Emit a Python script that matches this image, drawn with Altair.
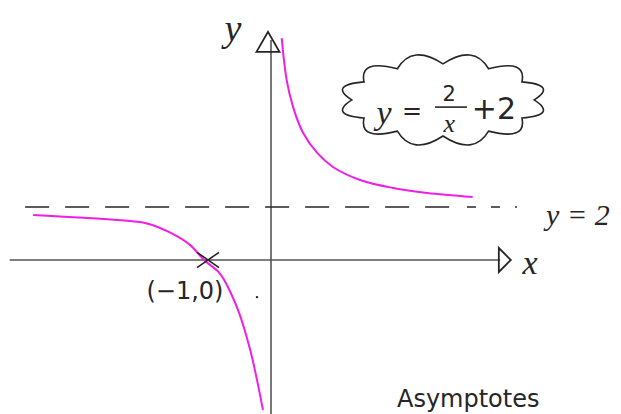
import altair as alt
import pandas as pd

# Branches of y = 2/x + 2, traced by hand
left_x = [-3.55, -2.10, -1.85, -1.51, -1.21, -1.0, -0.76, -0.51, -0.31, -0.12]
left_y = [1.70, 1.47, 1.38, 1.04, 0.57, 0.0, -0.52, -1.77, -3.40, -5.66]
right_x = [0.16, 0.234, 0.33, 0.48, 0.69, 0.925, 1.33, 1.82, 2.33, 3.01]
right_y = [8.37, 6.79, 5.77, 4.79, 4.04, 3.51, 3.02, 2.72, 2.53, 2.38]

asymptote_y = 2
intercept = (-1, 0)

X_DOMAIN = [-4.0448, 5.2239]
Y_DOMAIN = [-5.8113, 9.8113]

INK = "#262626"
AXIS_INK = "#555555"
PEN = "#f01ee6"
HAND = "DejaVu Sans"
HAND_LETTER = "Liberation Serif"

xs = alt.Scale(domain=X_DOMAIN, nice=False, zero=False)
ys = alt.Scale(domain=Y_DOMAIN, nice=False, zero=False)


def X(field="x"):
    return alt.X(f"{field}:Q", scale=xs, axis=None)


def Y(field="y"):
    return alt.Y(f"{field}:Q", scale=ys, axis=None)


curves = pd.DataFrame(
    {
        "x": left_x + right_x,
        "y": left_y + right_y,
        "branch": ["left"] * len(left_x) + ["right"] * len(right_x),
        "i": list(range(len(left_x))) + list(range(len(right_x))),
    }
)

branches = (
    alt.Chart(curves)
    .mark_line(color=PEN, strokeWidth=2, interpolate="catmull-rom")
    .encode(x=X(), y=Y(), detail="branch:N", order="i:Q")
)

# Axes
axes_df = pd.DataFrame(
    [
        {"x": 0, "x2": 0, "y": 8.30, "y2": Y_DOMAIN[0]},
        {"x": -3.90, "x2": 3.42, "y": 0, "y2": 0},
    ]
)
axes = (
    alt.Chart(axes_df)
    .mark_rule(color=AXIS_INK, strokeWidth=1.6)
    .encode(x=X(), x2="x2:Q", y=Y(), y2="y2:Q")
)

y_arrow = (
    alt.Chart(pd.DataFrame({"x": [-0.045], "y": [8.23]}))
    .mark_point(
        shape="M -1 0.87 L 0 -0.87 L 1 0.87 Z",
        size=529,
        filled=False,
        color=INK,
        strokeWidth=1.8,
        opacity=1,
    )
    .encode(x=X(), y=Y())
)

x_arrow = (
    alt.Chart(pd.DataFrame({"x": [3.49], "y": [0.0]}))
    .mark_point(
        shape="M -0.5 -1 L 0.5 0 L -0.5 1 Z",
        size=576,
        filled=False,
        color=INK,
        strokeWidth=1.8,
        opacity=1,
    )
    .encode(x=X(), y=Y())
)

# Horizontal asymptote y = 2
asym_main = (
    alt.Chart(pd.DataFrame({"x": [-3.67], "x2": [2.85], "y": [asymptote_y]}))
    .mark_rule(color=INK, strokeWidth=1.6, strokeDash=[24, 16])
    .encode(x=X(), x2="x2:Q", y=Y())
)
asym_tail = (
    alt.Chart(pd.DataFrame({"x": [2.925], "x2": [3.67], "y": [asymptote_y]}))
    .mark_rule(color=INK, strokeWidth=1.4, strokeDash=[9, 15])
    .encode(x=X(), x2="x2:Q", y=Y())
)

# x-intercept cross and its label
cross = (
    alt.Chart(pd.DataFrame({"x": [intercept[0] + 0.06], "y": [intercept[1]]}))
    .mark_point(
        shape="M -1 -0.7 L 1 0.7 M -1 0.7 L 1 -0.7",
        size=484,
        filled=False,
        color=INK,
        strokeWidth=1.6,
        opacity=1,
    )
    .encode(x=X(), y=Y())
)

dot = (
    alt.Chart(pd.DataFrame({"x": [-0.209], "y": [-1.40]}))
    .mark_point(shape="circle", size=6, filled=True, color=INK, opacity=1)
    .encode(x=X(), y=Y())
)

# Thought cloud around the equation
cloud_path = (
    "M 0.86 0 Q 1.082 0.142 0.745 0.17 Q 0.792 0.389 0.43 0.294 "
    "Q 0.29 0.531 0 0.34 Q -0.29 0.531 -0.43 0.294 "
    "Q -0.792 0.389 -0.745 0.17 Q -1.082 0.142 -0.86 0 "
    "Q -1.082 -0.142 -0.745 -0.17 Q -0.792 -0.389 -0.43 -0.294 "
    "Q -0.29 -0.531 0 -0.34 Q 0.29 -0.531 0.43 -0.294 "
    "Q 0.792 -0.389 0.745 -0.17 Q 1.082 -0.142 0.86 0 Z"
)
cloud = (
    alt.Chart(pd.DataFrame({"x": [2.567], "y": [6.04]}))
    .mark_point(
        shape=cloud_path,
        size=44944,
        filled=False,
        color=INK,
        strokeWidth=1.6,
        opacity=1,
    )
    .encode(x=X(), y=Y())
)

frac_bar = (
    alt.Chart(pd.DataFrame({"x": [2.448], "x2": [2.925], "y": [5.77]}))
    .mark_rule(color=INK, strokeWidth=1.6)
    .encode(x=X(), x2="x2:Q", y=Y())
)


def label(text, x, y, size, font=HAND, style="normal", align="center", baseline="middle"):
    return (
        alt.Chart(pd.DataFrame({"x": [x], "y": [y], "t": [text]}))
        .mark_text(
            font=font,
            fontSize=size,
            fontStyle=style,
            color=INK,
            align=align,
            baseline=baseline,
        )
        .encode(x=X(), y=Y(), text="t:N")
    )


texts = [
    label("y", -0.567, 8.68, 38, HAND_LETTER, "italic"),
    label("x", 3.866, -0.15, 34, HAND_LETTER, "italic"),
    label("y = 2", 4.58, 1.66, 30, HAND_LETTER, "italic"),
    label("(−1,0)", -1.284, -1.21, 24),
    label("y", 1.687, 5.51, 34, HAND_LETTER, "italic"),
    label("=", 2.104, 5.58, 24),
    label("2", 2.66, 6.22, 21),
    label("x", 2.66, 5.15, 26, HAND_LETTER, "italic"),
    label("+2", 3.328, 5.66, 30),
    label("Asymptotes", 1.88, -5.72, 24, align="left", baseline="bottom"),
]

chart = (
    alt.layer(
        cloud,
        frac_bar,
        axes,
        y_arrow,
        x_arrow,
        asym_main,
        asym_tail,
        branches,
        cross,
        dot,
        *texts,
    )
    .properties(
        width=621,
        height=414,
        padding=0,
        autosize=alt.AutoSizeParams(type="none"),
        background="white",
    )
    .configure_view(stroke=None)
)

chart.save("out.html", embed_options={"renderer": "svg", "actions": False})
